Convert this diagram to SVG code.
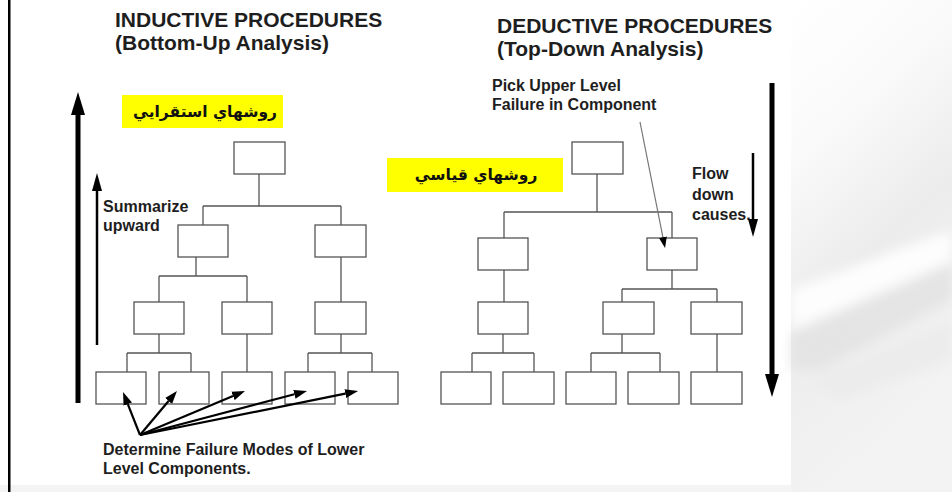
<svg xmlns="http://www.w3.org/2000/svg" width="952" height="492" viewBox="0 0 952 492">
<defs>
<style>
.box{fill:#fff;stroke:#555;stroke-width:1.3}
.con{fill:none;stroke:#555;stroke-width:1.3}
.t{font-family:"Liberation Sans",Arial,sans-serif;font-weight:bold;fill:#1e1e1e}
.title{font-size:21px}
.lbl{font-size:16px}
.ar{font-family:"DejaVu Sans","Noto Sans",sans-serif;font-weight:bold;font-size:15.5px;fill:#111}
.hl{fill:#ffff00}
.big{stroke:#000;stroke-width:5;fill:none}
.sm{stroke:#000;stroke-width:2.5;fill:none}
.ptr{stroke:#000;stroke-width:2.2;fill:none}
.pick{stroke:#777;stroke-width:1.2;fill:none}
</style>
<marker id="hBig" markerUnits="userSpaceOnUse" markerWidth="24" markerHeight="15" refX="0" refY="7" orient="auto" viewBox="0 0 24 14"><path d="M0,0 L23,7 L0,14 z" fill="#000"/></marker>
<marker id="hSm" markerUnits="userSpaceOnUse" markerWidth="19" markerHeight="11" refX="0" refY="5" orient="auto" viewBox="0 0 19 10"><path d="M0,0 L18,5 L0,10 z" fill="#000"/></marker>
<marker id="hMed" markerUnits="userSpaceOnUse" markerWidth="14" markerHeight="10" refX="0" refY="4.5" orient="auto" viewBox="0 0 14 9"><path d="M0,0 L13,4.5 L0,9 z" fill="#000"/></marker>
<marker id="hPick" markerUnits="userSpaceOnUse" markerWidth="12" markerHeight="9" refX="0" refY="4" orient="auto" viewBox="0 0 12 8"><path d="M0,0 L11,4 L0,8 z" fill="#000"/></marker>
<linearGradient id="bgR" x1="0" y1="0" x2="0.3" y2="1">
<stop offset="0" stop-color="#ffffff"/>
<stop offset="0.3" stop-color="#fafafa"/>
<stop offset="0.6" stop-color="#ececec"/>
<stop offset="1" stop-color="#f3f3f3"/>
</linearGradient>
<filter id="blur"><feGaussianBlur stdDeviation="6"/></filter>
</defs>

<!-- background -->
<rect x="0" y="0" width="952" height="492" fill="#ffffff"/>
<rect x="0" y="485" width="952" height="7" fill="#f4f4f4"/>
<g id="bg-right">
<rect x="791" y="0" width="161" height="492" fill="url(#bgR)"/>
<g filter="url(#blur)">
<path d="M791,290 L952,230 L952,260 L791,330 z" fill="#ffffff" opacity="0.9"/>
<path d="M791,335 L952,265 L952,300 L820,370 L791,370 z" fill="#e2e2e2" opacity="0.8"/>
<path d="M810,380 L952,320 L952,360 L840,400 z" fill="#ebebeb" opacity="0.8"/>
</g>
</g>
<rect x="8" y="0" width="2.5" height="492" fill="#000"/>

<!-- titles -->
<g id="title-left">
<text class="t title" x="115" y="27">INDUCTIVE PROCEDURES</text>
<text class="t title" x="115" y="50">(Bottom-Up Analysis)</text>
</g>
<g id="title-right">
<text class="t title" x="497" y="33">DEDUCTIVE PROCEDURES</text>
<text class="t title" x="497" y="56">(Top-Down Analysis)</text>
</g>

<!-- yellow labels -->
<g id="label-inductive-fa">
<rect class="hl" x="122" y="95" width="161" height="33"/>
<text class="ar" x="205" y="117" text-anchor="middle" direction="rtl">روشهاي استقرايي</text>
</g>
<g id="label-deductive-fa">
<rect class="hl" x="387" y="158" width="176" height="34"/>
<text class="ar" x="476" y="180" text-anchor="middle" direction="rtl">روشهاي قياسي</text>
</g>

<!-- side labels -->
<g id="label-summarize">
<text class="t lbl" x="103" y="212">Summarize</text>
<text class="t lbl" x="103" y="231">upward</text>
</g>
<g id="label-pick">
<text class="t lbl" x="492" y="91">Pick Upper Level</text>
<text class="t lbl" x="492" y="110">Failure in Component</text>
</g>
<g id="label-flow">
<text class="t lbl" x="692" y="179">Flow</text>
<text class="t lbl" x="692" y="200">down</text>
<text class="t lbl" x="692" y="220">causes.</text>
</g>
<g id="label-determine">
<text class="t lbl" x="103" y="455">Determine Failure Modes of Lower</text>
<text class="t lbl" x="103" y="474">Level Components.</text>
</g>

<!-- left tree nodes -->
<g id="L0"><rect class="box" x="234" y="142" width="51" height="32"/></g>
<g id="L1a"><rect class="box" x="178" y="225" width="50" height="32"/></g>
<g id="L1b"><rect class="box" x="315" y="225" width="51" height="32"/></g>
<g id="L2a"><rect class="box" x="134" y="302" width="50" height="32"/></g>
<g id="L2b"><rect class="box" x="222" y="302" width="50" height="32"/></g>
<g id="L2c"><rect class="box" x="315" y="302" width="51" height="32"/></g>
<g id="L3a"><rect class="box" x="96" y="372" width="50" height="32"/></g>
<g id="L3b"><rect class="box" x="159" y="372" width="50" height="32"/></g>
<g id="L3c"><rect class="box" x="222" y="372" width="50" height="32"/></g>
<g id="L3d"><rect class="box" x="285" y="372" width="50" height="32"/></g>
<g id="L3e"><rect class="box" x="348" y="372" width="50" height="32"/></g>

<!-- right tree nodes -->
<g id="R0"><rect class="box" x="572" y="142" width="51" height="32"/></g>
<g id="R1a"><rect class="box" x="478" y="238" width="50" height="32"/></g>
<g id="R1b"><rect class="box" x="647" y="238" width="50" height="32"/></g>
<g id="R2a"><rect class="box" x="478" y="302" width="50" height="32"/></g>
<g id="R2b"><rect class="box" x="603" y="302" width="51" height="32"/></g>
<g id="R2c"><rect class="box" x="691" y="302" width="51" height="32"/></g>
<g id="R3a"><rect class="box" x="441" y="372" width="50" height="32"/></g>
<g id="R3b"><rect class="box" x="503" y="372" width="51" height="32"/></g>
<g id="R3c"><rect class="box" x="566" y="372" width="50" height="32"/></g>
<g id="R3d"><rect class="box" x="628" y="372" width="51" height="32"/></g>
<g id="R3e"><rect class="box" x="691" y="372" width="51" height="32"/></g>

<!-- connectors -->
<g id="connectors">
<path class="con" d="M259,174 V206 M203,206 H341 M203,206 V225 M341,206 V225
M196,257 V276 M159,276 H247 M159,276 V302 M247,276 V302 M341,257 V302
M159,334 V353 M127,353 H191 M127,353 V372 M191,353 V372
M247,334 V372
M341,334 V353 M308,353 H372 M308,353 V372 M372,353 V372"/>
<path class="con" d="M597,174 V212 M504,212 H672 M504,212 V238 M672,212 V238
M504,270 V302 M672,270 V289 M622,289 H717 M622,289 V302 M717,289 V302
M503,334 V353 M472,353 H534 M472,353 V372 M534,353 V372
M622,334 V353 M591,353 H660 M591,353 V372 M660,353 V372
M717,334 V372"/>
<line class="big" x1="78" y1="403" x2="78" y2="115" marker-end="url(#hBig)"/>
<line class="sm" x1="97" y1="345" x2="97" y2="191" marker-end="url(#hSm)"/>
<line class="big" x1="772" y1="83" x2="772" y2="374" marker-end="url(#hBig)"/>
<line class="sm" x1="753" y1="153" x2="753" y2="219" marker-end="url(#hSm)"/>
<line class="pick" x1="640" y1="122" x2="662.9" y2="237.2" marker-end="url(#hPick)"/>
<line class="ptr" x1="140" y1="435" x2="127.8" y2="404.1" marker-end="url(#hMed)"/>
<line class="ptr" x1="140" y1="435" x2="168.6" y2="401" marker-end="url(#hMed)"/>
<line class="ptr" x1="140" y1="435" x2="233" y2="396" marker-end="url(#hMed)"/>
<line class="ptr" x1="140" y1="435" x2="294.4" y2="394.3" marker-end="url(#hMed)"/>
<line class="ptr" x1="140" y1="435" x2="345.3" y2="393.6" marker-end="url(#hMed)"/>
</g>
</svg>
